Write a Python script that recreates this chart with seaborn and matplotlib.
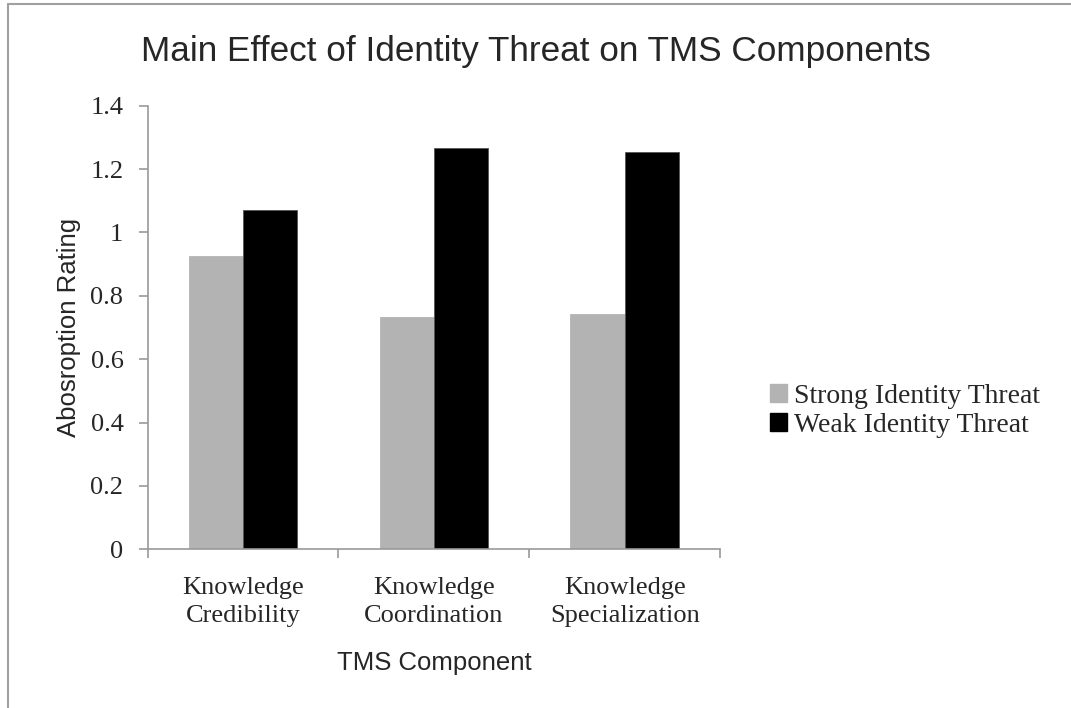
import pandas as pd
import seaborn as sns
import matplotlib.pyplot as plt
from matplotlib.lines import Line2D
from matplotlib.patches import Patch

# Values
components = ['Knowledge\nCredibility', 'Knowledge\nCoordination', 'Knowledge\nSpecialization']
strong_threat = [0.927, 0.733, 0.742]
weak_threat = [1.071, 1.265, 1.253]
groups = ['Strong Identity Threat', 'Weak Identity Threat']
colors = ['#b3b3b3', '#000000']

df = pd.DataFrame({
    'component': components * 2,
    'rating': strong_threat + weak_threat,
    'group': [groups[0]] * 3 + [groups[1]] * 3,
})

sns.set_style('white')
serif = ['Liberation Serif', 'DejaVu Serif']
sans = ['Liberation Sans', 'DejaVu Sans']

fig = plt.figure(figsize=(10.71, 7.08), dpi=100)
ax = fig.add_axes([0.1379, 0.2242, 0.5344, 0.6265])

sns.barplot(data=df, x='component', y='rating', hue='group', palette=colors,
            width=0.569, gap=0, ax=ax, legend=False, errorbar=None,
            edgecolor='#555555', linewidth=0.6)
# gray bars without a dark edge
for p in ax.patches[:3]:
    p.set_edgecolor('#b3b3b3')

ax.set_ylim(0, 1.4)
ax.set_yticks([0, 0.2, 0.4, 0.6, 0.8, 1.0, 1.2, 1.4])
ax.set_yticklabels(['0', '0.2', '0.4', '0.6', '0.8', '1', '1.2', '1.4'],
                   family=serif, fontsize=19)
ax.set_xlim(-0.5, 2.5)
ax.set_xticks([0, 1, 2])
ax.set_xticklabels(components, family=serif, fontsize=19, linespacing=1.35)
ax.set_xticks([-0.5, 0.5, 1.5, 2.5], minor=True)
ax.tick_params(axis='x', which='major', bottom=False, length=0, pad=20)
ax.tick_params(axis='x', which='minor', bottom=True, length=6.5, width=1.2,
               color='#999999', direction='out')
ax.tick_params(axis='y', left=True, length=6.5, width=1.2, color='#999999',
               direction='out', pad=11)

for s in ['top', 'right']:
    ax.spines[s].set_visible(False)
for s in ['left', 'bottom']:
    ax.spines[s].set_color('#999999')
    ax.spines[s].set_linewidth(1.2)

ax.set_xlabel('TMS Component', family=sans, fontsize=18.5, labelpad=17)
ax.set_ylabel('Abosroption Rating', family=sans, fontsize=18.5, labelpad=7)

fig.text(0.5, 1 - 61 / 708, 'Main Effect of Identity Threat on TMS Components',
         family=sans, fontsize=25.3, ha='center', va='baseline')

handles = [Patch(facecolor=c, edgecolor=c) for c in colors]
fig.legend(handles, groups, loc='center left', bbox_to_anchor=(0.696, 0.42),
           frameon=False, prop={'family': serif, 'size': 20},
           handlelength=0.6, handleheight=0.6, handletextpad=0.25, labelspacing=0.15)

# outer frame (left and top edges visible)
fig.add_artist(Line2D([0.0075, 0.0075], [0.0, 0.995], color='#a0a0a0', lw=1.5))
fig.add_artist(Line2D([0.0075, 1.0], [0.995, 0.995], color='#a0a0a0', lw=1.5))

fig.savefig('out.png', dpi=100)
